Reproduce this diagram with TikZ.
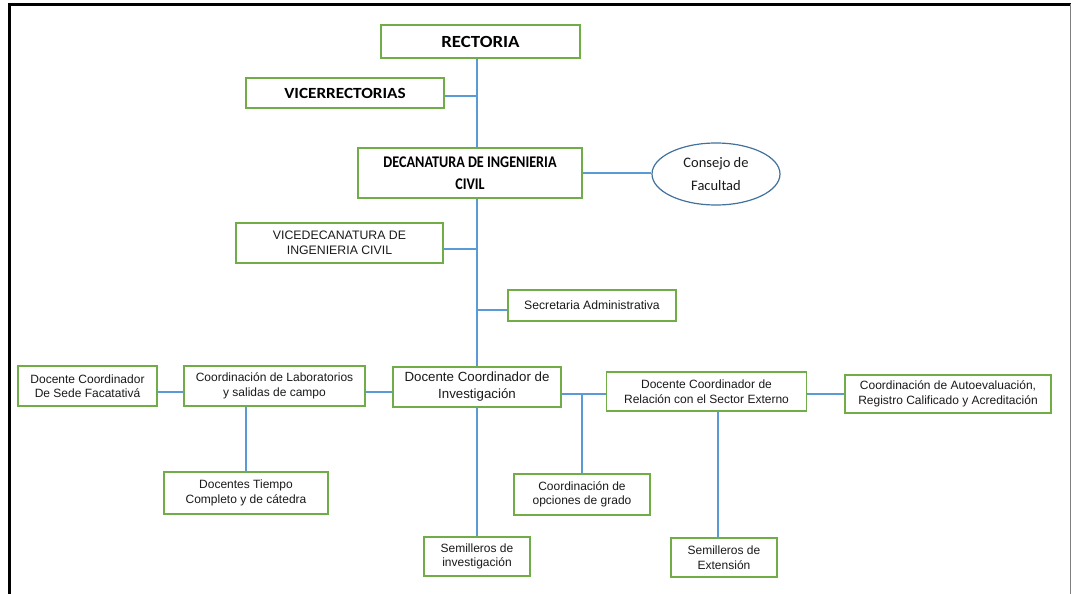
\documentclass[tikz,border=0pt]{standalone}
\usepackage{fontspec}
\setmainfont{Liberation Sans}
\newfontfamily\calb{Carlito}
\newfontfamily\calbs{Carlito}[FakeStretch=1.11]
\newfontfamily\calbn{Carlito}[FakeStretch=0.87]
\usetikzlibrary{shapes.geometric}
\definecolor{boxgreen}{HTML}{70AD47}
\definecolor{linkblue}{HTML}{5B9BD5}
\definecolor{ellblue}{HTML}{41719C}
\definecolor{txt}{HTML}{1A1A1A}
\begin{document}
\begin{tikzpicture}[x=1pt,y=-1pt,
  box/.style={draw=boxgreen, line width=1.3pt, fill=white, align=center, inner sep=0pt, text=txt},
  bsize/.style 2 args={minimum width=#1pt, minimum height=#2pt},
  arial/.style={font=\fontsize{12}{14.5}\selectfont},
  conn/.style={draw=linkblue, line width=1.4pt},
  frameline/.style={draw=black, line width=2.7pt}]
\useasboundingbox (0,0) rectangle (1071,594);
% frame
\draw[frameline] (9.7,594) -- (9.7,4.5) -- (1071,4.5);
\draw[draw=gray, line width=1pt] (1070.3,4.5) -- (1070.3,594);

% nodes
\node[box, bsize={199}{33}, font=\calbs\bfseries\fontsize{17}{20}\selectfont, text=black] (rect) at (480.5,41.5) {RECTORIA};
\node[box, bsize={198}{30}, font=\calbs\bfseries\fontsize{15.5}{18}\selectfont, text=black] (vice) at (345,93) {VICERRECTORIAS};
\node[box, bsize={224}{50}, font=\calbn\bfseries\fontsize{16.3}{22.5}\selectfont, text=black] (dec) at (470,173) {DECANATURA DE INGENIERIA\\CIVIL};
\node[ellipse, draw=ellblue, line width=1.2pt, fill=white, minimum width=128pt, minimum height=62pt, inner sep=0pt, align=center, text=txt, font=\calb\fontsize{14.5}{23}\selectfont] (cons) at (716,174) {Consejo de\\Facultad};
\node[box, bsize={207}{40}, arial, font=\fontsize{12.3}{14.5}\selectfont] (vd) at (339.5,243) {VICEDECANATURA DE\\INGENIERIA CIVIL};
\node[box, bsize={168}{31}, arial, font=\fontsize{12.2}{14.5}\selectfont] (sec) at (592,305.5) {Secretaria Administrativa};
\node[box, bsize={168}{40}, font=\fontsize{13.3}{17}\selectfont] (inv) at (477,387) {Docente Coordinador de\\Investigación};
\node[box, bsize={139}{40}, arial] (sede) at (87.5,386) {Docente Coordinador\\De Sede Facatativá};
\node[box, bsize={181}{40}, arial] (lab) at (274.5,386) {Coordinación de Laboratorios\\y salidas de campo};
\node[box, bsize={200}{39}, arial] (rel) at (706.5,391.5) {Docente Coordinador de\\Relación con el Sector Externo};
\node[box, bsize={206}{38}, arial] (aut) at (948,394) {Coordinación de Autoevaluación,\\Registro Calificado y Acreditación};
\node[box, bsize={164}{42}, arial] (dt) at (246,493) {Docentes Tiempo\\Completo y de cátedra};
\node[box, bsize={136}{41}, arial] (opc) at (582,494.5) {Coordinación de\\opciones de grado};
\node[box, bsize={106}{39}, arial] (seminv) at (477,556.5) {Semilleros de\\investigación};
\node[box, bsize={106}{39}, arial] (semext) at (724,557.5) {Semilleros de\\Extensión};

% connectors
\draw[conn] (rect.south -| inv.north) -- (dec.north -| inv.north);
\draw[conn] ([yshift=-3pt]vice.east) -- ([yshift=-3pt]vice.east -| inv.north);
\draw[conn] (dec.east) -- (dec.east -| cons.west);
\draw[conn] (dec.south -| inv.north) -- (inv.north);
\draw[conn] ([yshift=-6pt]vd.east) -- ([yshift=-6pt]vd.east -| inv.north);
\draw[conn] ([yshift=-4.5pt]sec.west) -- ([yshift=-4.5pt]sec.west -| inv.north);
\draw[conn] (inv.south) -- (seminv.north);
\draw[conn] ([yshift=-6pt]sede.east) -- ([yshift=-6pt]sede.east -| lab.west);
\draw[conn] ([yshift=-6pt]lab.east) -- ([yshift=-6pt]lab.east -| inv.west);
\draw[conn] (dt.north) -- (dt.north |- lab.south);
\draw[conn] (inv.east |- aut.west) -- (rel.west |- aut.west);
\draw[conn] (opc.north) -- (opc.north |- aut.west);
\draw[conn] (rel.east |- aut.west) -- (aut.west);
\draw[conn] ([xshift=-6pt]semext.north) -- ([xshift=-6pt]semext.north |- rel.south);
\end{tikzpicture}
\end{document}
